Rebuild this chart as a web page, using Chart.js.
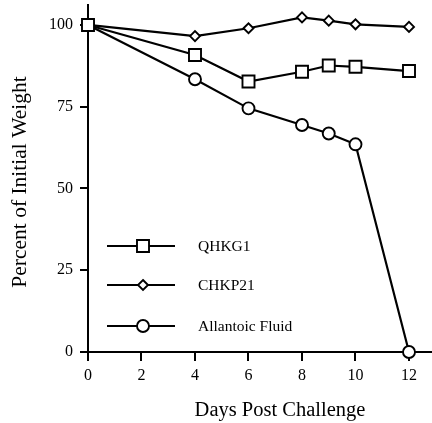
<!DOCTYPE html>
<html>
<head>
<meta charset="utf-8">
<script src="https://cdn.jsdelivr.net/npm/chart.js@4/dist/chart.umd.min.js"></script>
<style>
  body { margin: 0; background: #fff; }
  #grafica { display: block; }
</style>
</head>
<body>
<canvas id="grafica" width="432" height="423"></canvas>
<script>
const dias = [0, 4, 6, 8, 9, 10, 12];
const qhkg1 = [100, 90.8, 82.7, 85.7, 87.6, 87.2, 85.9];
const chkp21 = [100, 96.6, 99.0, 102.3, 101.3, 100.2, 99.4];
const alantoico = [100, 83.4, 74.5, 69.4, 66.8, 63.5, 0];
const ticksX = [0, 2, 4, 6, 8, 10, 12];
const ticksY = [0, 25, 50, 75, 100];
const nombres = ['QHKG1', 'CHKP21', 'Allantoic Fluid'];

const fuente = '"Liberation Serif", "Times New Roman", serif';

function puntos(valores) {
  return dias.map((d, i) => ({ x: d, y: valores[i] }));
}

function serie(label, valores, estilo, radio) {
  return {
    label: label,
    data: puntos(valores),
    borderColor: '#000',
    borderWidth: 2.2,
    pointStyle: estilo,
    pointRadius: radio,
    pointHoverRadius: radio,
    pointBackgroundColor: '#fff',
    pointBorderColor: '#000',
    pointBorderWidth: 1.9,
    clip: false,
    tension: 0
  };
}

function marcador(ctx, estilo, r, x, y) {
  ctx.save();
  ctx.beginPath();
  if (estilo === 'rect') {
    const s = r * Math.SQRT1_2;
    ctx.rect(x - s, y - s, 2 * s, 2 * s);
  } else if (estilo === 'rectRot') {
    ctx.moveTo(x, y - r);
    ctx.lineTo(x + r, y);
    ctx.lineTo(x, y + r);
    ctx.lineTo(x - r, y);
    ctx.closePath();
  } else {
    ctx.arc(x, y, r, 0, Math.PI * 2);
  }
  ctx.fillStyle = '#fff';
  ctx.fill();
  ctx.lineWidth = 1.9;
  ctx.strokeStyle = '#000';
  ctx.stroke();
  ctx.restore();
}

// sin relleno extra alrededor de los ejes
function sinRelleno(s) {
  s.paddingTop = 0;
  s.paddingBottom = 0;
  s.paddingLeft = 0;
  s.paddingRight = 0;
}

// leyenda y titulos de ejes dibujados a mano
const extras = {
  id: 'extras',
  afterDraw(chart) {
    const ctx = chart.ctx;
    const filas = [246, 285, 326];
    chart.data.datasets.forEach((ds, i) => {
      const y = filas[i];
      ctx.save();
      ctx.beginPath();
      ctx.moveTo(107, y);
      ctx.lineTo(175, y);
      ctx.lineWidth = 2;
      ctx.strokeStyle = '#000';
      ctx.stroke();
      ctx.restore();
      marcador(ctx, ds.pointStyle, ds.pointRadius, 143, y);
      ctx.save();
      ctx.fillStyle = '#000';
      ctx.font = '15.5px ' + fuente;
      ctx.textBaseline = 'middle';
      ctx.fillText(nombres[i], 198, y + 1);
      ctx.restore();
    });

    ctx.save();
    ctx.fillStyle = '#000';
    ctx.font = '20.5px ' + fuente;
    ctx.textAlign = 'center';
    ctx.textBaseline = 'middle';
    ctx.fillText('Days Post Challenge', 280, 411);
    ctx.translate(20, 182);
    ctx.rotate(-Math.PI / 2);
    ctx.font = '21.5px ' + fuente;
    ctx.fillText('Percent of Initial Weight', 0, 0);
    ctx.restore();
  }
};

const ctx = document.getElementById('grafica').getContext('2d');
const chart = new Chart(ctx, {
  type: 'line',
  data: {
    datasets: [
      serie('QHKG1', qhkg1, 'rect', 8.5),
      serie('CHKP21', chkp21, 'rectRot', 5),
      serie('Allantoic Fluid', alantoico, 'circle', 6)
    ]
  },
  options: {
    responsive: false,
    animation: false,
    events: [],
    layout: { autoPadding: false, padding: { top: 5, right: 0, left: 0, bottom: 0 } },
    plugins: { legend: { display: false }, tooltip: { enabled: false } },
    scales: {
      x: {
        type: 'linear',
        min: 0,
        max: 12.86,
        afterBuildTicks: (s) => { s.ticks = ticksX.map(v => ({ value: v })); },
        afterFit: (s) => { s.height = 71; sinRelleno(s); },
        border: { display: true, color: '#000', width: 2 },
        grid: { display: true, drawOnChartArea: false, drawTicks: true, tickLength: 9, color: '#000', lineWidth: 2 },
        ticks: { color: '#000', font: { family: fuente, size: 16 }, padding: 5, maxRotation: 0 }
      },
      y: {
        type: 'linear',
        min: 0,
        max: 106.1,
        afterBuildTicks: (s) => { s.ticks = ticksY.map(v => ({ value: v })); },
        afterFit: (s) => { s.width = 88; sinRelleno(s); },
        border: { display: true, color: '#000', width: 2 },
        grid: { display: true, drawOnChartArea: false, drawTicks: true, tickLength: 8, color: '#000', lineWidth: 2 },
        ticks: { color: '#000', font: { family: fuente, size: 16 }, padding: 7 }
      }
    }
  },
  plugins: [extras]
});
</script>
</body>
</html>
